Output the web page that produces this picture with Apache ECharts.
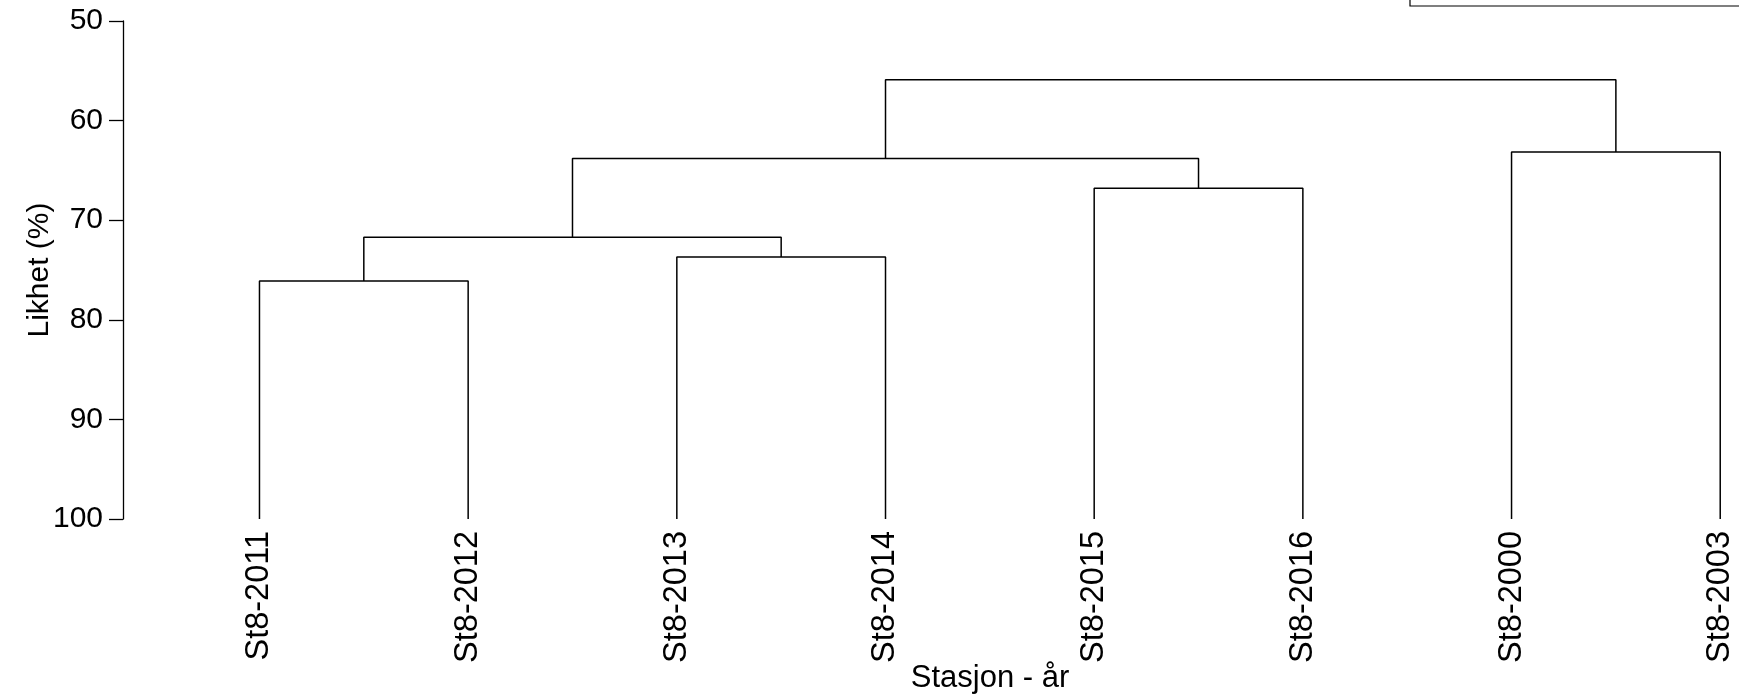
<!DOCTYPE html>
<html>
<head>
<meta charset="utf-8">
<script src="https://cdn.jsdelivr.net/npm/echarts@6/dist/echarts.min.js"></script>
<style>
html,body{margin:0;padding:0;background:#fff;}
#chart{width:1739px;height:697px;}
</style>
</head>
<body>
<div id="chart"></div>
<script>
// Leaves (x order) of the dendrogram
const leaves = ['St8-2011','St8-2012','St8-2013','St8-2014','St8-2015','St8-2016','St8-2000','St8-2003'];
// Merges: node ids 0..7 are leaves, merge k creates node 8+k
const mergeLeft   = [0, 2, 8, 4, 10, 6, 12];
const mergeRight  = [1, 3, 9, 5, 11, 7, 13];
const mergeHeight = [76.1, 73.7, 71.7, 66.8, 63.8, 63.15, 55.9];
const leafHeight = 100;
const yTicks = [50, 60, 70, 80, 90, 100];

const nodeX = leaves.map((_, i) => i);
const nodeH = leaves.map(() => leafHeight);
const series = [];
for (let k = 0; k < mergeHeight.length; k++) {
  const l = mergeLeft[k], r = mergeRight[k], h = mergeHeight[k];
  const xl = nodeX[l], xr = nodeX[r];
  series.push({
    type: 'line',
    data: [[xl, nodeH[l]], [xl, h], [xr, h], [xr, nodeH[r]]],
    showSymbol: false,
    symbol: 'none',
    silent: true,
    lineStyle: { color: '#000', width: 1.5 },
    animation: false
  });
  nodeX.push((xl + xr) / 2);
  nodeH.push(h);
}

const chart = echarts.init(document.getElementById('chart'));
const font = 'Liberation Sans, Arial, Helvetica, sans-serif';
chart.setOption({
  backgroundColor: '#fff',
  animation: false,
  textStyle: { fontFamily: font, color: '#000' },
  grid: { left: 123, right: 0, top: 21, bottom: 178, containLabel: false, outerBoundsMode: 'none' },
  xAxis: {
    type: 'value',
    min: -0.654,
    max: 7.09,
    axisLine: { show: false, onZero: false },
    axisTick: { show: false },
    splitLine: { show: false },
    axisLabel: {
      customValues: leaves.map((_, i) => i),
      formatter: v => leaves[Math.round(v)] || '',
      rotate: 90,
      fontSize: 32.5,
      color: '#000',
      margin: 12,
      fontFamily: font
    },
    name: 'Stasjon - år',
    nameLocation: 'middle',
    nameGap: 144,
    nameMoveOverlap: false,
    nameTextStyle: { fontSize: 31, color: '#000', fontFamily: font, padding: [0, 0, 0, 118] }
  },
  yAxis: {
    type: 'value',
    inverse: true,
    min: yTicks[0],
    max: yTicks[yTicks.length - 1],
    interval: 10,
    splitLine: { show: false },
    axisLine: { show: true, onZero: false, lineStyle: { color: '#000', width: 1.3 } },
    axisTick: { show: true, length: 14, lineStyle: { color: '#000', width: 1.3 } },
    axisLabel: { fontSize: 30, color: '#000', margin: 20, fontFamily: font },
    name: 'Likhet (%)',
    nameLocation: 'middle',
    nameGap: 68,
    nameMoveOverlap: false,
    nameTextStyle: { fontSize: 30, color: '#000', fontFamily: font }
  },
  graphic: [
    { type: 'rect', shape: { x: 1410, y: -60, width: 400, height: 66 },
      style: { fill: 'none', stroke: '#000', lineWidth: 1.2 } },
    { type: 'text', x: 1670, y: -2,
      style: { text: 'Resemblance: S17 Similarity', fontSize: 28, fontFamily: font,
               fill: '#000', textAlign: 'right', textVerticalAlign: 'bottom' } }
  ],
  series: series
});
</script>
</body>
</html>
